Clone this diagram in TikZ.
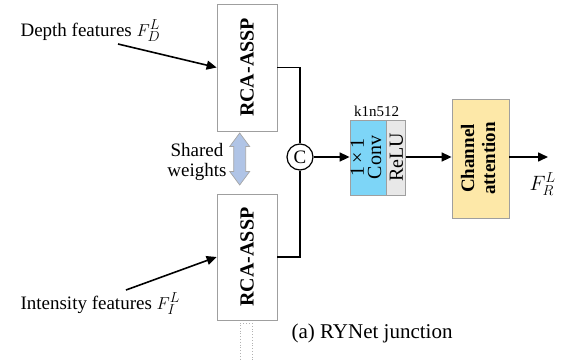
\documentclass[tikz,border=0pt]{standalone}
\usepackage{fontspec}
\setmainfont{Liberation Serif}
\usetikzlibrary{arrows.meta}
\definecolor{convblue}{RGB}{125,213,247}
\definecolor{relugray}{RGB}{232,232,232}
\definecolor{attyellow}{RGB}{253,232,168}
\definecolor{sharefill}{RGB}{176,196,230}
\newcommand{\lblfont}{\fontsize{19}{20}\selectfont}
\tikzset{
  blk/.style={draw=gray!75, line width=0.8pt, inner sep=0pt},
  wire/.style={line width=1.6pt},
  arr/.style={-{Triangle[length=10pt,width=9pt]}, line width=1.6pt},
}
\begin{document}
\begin{tikzpicture}[x=1pt,y=-1pt,font=\lblfont]
\useasboundingbox (0,0) rectangle (562,359);

% the two shared branches
\node[blk, minimum width=60pt, minimum height=127pt] (rcaTop) at (247,67.5) {\rotatebox{90}{\bfseries\fontsize{20}{21}\selectfont RCA-ASSP}};
\node[blk, minimum width=60pt, minimum height=126pt] (rcaBot) at (247,257) {\rotatebox{90}{\bfseries\fontsize{20}{21}\selectfont RCA-ASSP}};
\node[draw=gray!60, dotted, line width=0.8pt, minimum width=12pt, minimum height=50pt, anchor=north] (tail) at (246,323) {};

% shared weights arrow
\coordinate (share) at (239.7,159);
\draw[draw=gray!70, fill=sharefill, line width=0.7pt]
  ([yshift=26pt]share) -- ++(10,13.5) -- ++(-4,0) -- ++(0,25) -- ++(4,0)
  -- ++(-10,13.5) -- ++(-10,-13.5) -- ++(4,0) -- ++(0,-25) -- ++(-4,0) -- cycle;
\node[align=center] (swLbl) at (197,162) {Shared\\weights};

% concat
\node[draw, circle, line width=1.2pt, minimum size=26pt, inner sep=0pt] (cat) at (300,157) {C};
\draw[wire] (rcaTop.east) -| (cat.north);
\draw[wire] (rcaBot.east) -| (cat.south);

% conv + relu
\node[blk, fill=convblue, minimum width=36pt, minimum height=75pt] (conv) at (368,157.5)
  {\rotatebox{90}{\fontsize{20}{14}\selectfont\begin{tabular}{@{}c@{}}1\,×\,1\\Conv\end{tabular}}};
\node[blk, fill=relugray, minimum width=19pt, minimum height=75pt, anchor=west] (relu) at (conv.east)
  {\rotatebox{90}{\fontsize{20}{15}\selectfont ReLU}};
\node[font=\fontsize{15}{16}\selectfont] (kLbl) at (376.5,111) {k1n512};

% attention
\node[blk, fill=attyellow, minimum width=57pt, minimum height=119pt] (att) at (480.5,158.5)
  {\rotatebox{90}{\bfseries\fontsize{19}{21}\selectfont\begin{tabular}{@{}c@{}}Channel\\attention\end{tabular}}};

\draw[arr] (cat.east) -- (conv.west |- cat);
\draw[arr] (relu.east |- cat) -- (att.west |- cat);
\coordinate (out) at (548,157);
\draw[arr] (att.east |- cat) -- (out);
\node[anchor=base west, font=\fontsize{22}{24}\selectfont] (fOut) at (526,190) {$F_R^L$};

% inputs
\node[anchor=base west] (dLbl) at (17,36) {Depth features $F_D^L$};
\coordinate (dIn) at (118,44);
\draw[arr] (dIn) -- (rcaTop.west);
\node[anchor=base west] (iLbl) at (17,309) {Intensity features $F_I^L$};
\coordinate (iIn) at (126,290);
\draw[arr] (iIn) -- (rcaBot.west);

\node[anchor=base west, font=\fontsize{21}{22}\selectfont] (cap) at (288,338) {(a) RYNet junction};
\end{tikzpicture}
\end{document}
